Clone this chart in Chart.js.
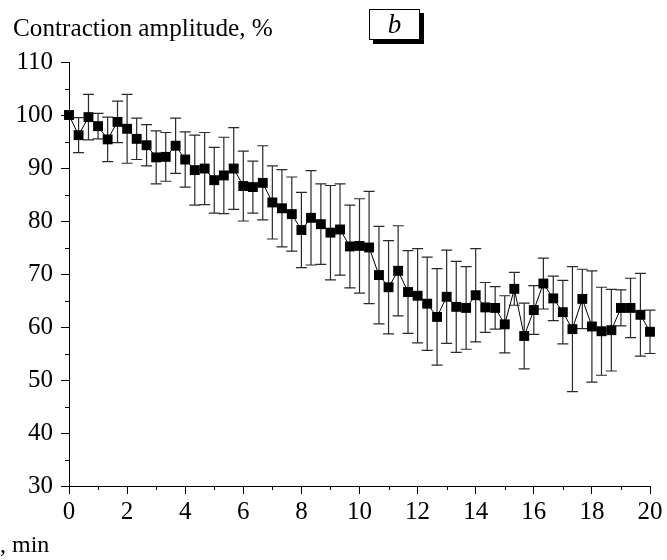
<!DOCTYPE html>
<html>
<head>
<meta charset="utf-8">
<script src="https://cdn.jsdelivr.net/npm/chart.js@4/dist/chart.umd.min.js"></script>
<style>
  html, body { margin: 0; padding: 0; background: #fff; }
  #wrap { position: relative; width: 667px; height: 560px; overflow: hidden; }
  canvas { position: absolute; left: 0; top: 0; }
  .t { position: absolute; font-family: "Liberation Serif", "DejaVu Serif", serif; color: #000; white-space: nowrap; }
  #ylab { left: 13px; top: 13px; font-size: 26px; transform: scaleX(0.97); transform-origin: left top; }
  #panel { left: 369px; top: 9px; width: 49px; height: 29px; border: 1px solid #000; box-shadow: 4px 4px 0 #000; background: #fff;
           font-style: italic; font-size: 27px; text-align: center; line-height: 28px; }
  #xlab { left: 0px; top: 531px; font-size: 24px; }
</style>
</head>
<body>
<div id="wrap">
  <canvas id="c" width="667" height="560"></canvas>
  <div class="t" id="ylab">Contraction amplitude, %</div>
  <div class="t" id="panel">b</div>
  <div class="t" id="xlab">, min</div>
</div>
<script>
// Time, min
const times = [0, 0.33, 0.67, 1, 1.33, 1.67, 2, 2.33, 2.67, 3, 3.33, 3.67, 4, 4.33, 4.67, 5, 5.33, 5.67, 6, 6.33, 6.67,
  7, 7.33, 7.67, 8, 8.33, 8.67, 9, 9.33, 9.67, 10, 10.33, 10.67, 11, 11.33, 11.67, 12, 12.33, 12.67, 13, 13.33, 13.67,
  14, 14.33, 14.67, 15, 15.33, 15.67, 16, 16.33, 16.67, 17, 17.33, 17.67, 18, 18.33, 18.67, 19, 19.33, 19.67, 20];
// Contraction amplitude, %
const amplitude = [100, 96.2, 99.6, 97.9, 95.4, 98.7, 97.4, 95.5, 94.3, 92.0, 92.1, 94.2, 91.6, 89.6, 89.9, 87.7, 88.6,
  89.9, 86.6, 86.4, 87.2, 83.5, 82.4, 81.3, 78.3, 80.6, 79.4, 77.8, 78.4, 75.2, 75.3, 75.0, 69.8, 67.5, 70.6, 66.6, 65.9,
  64.4, 61.9, 65.7, 63.8, 63.6, 66.0, 63.7, 63.6, 60.5, 67.2, 58.3, 63.2, 68.2, 65.4, 62.8, 59.6, 65.3, 60.1, 59.2, 59.4,
  63.6, 63.6, 62.3, 59.1];
// Error (±)
const errors = [0, 3.3, 4.3, 2.4, 4.2, 3.9, 6.5, 3.9, 3.9, 5.0, 4.6, 5.2, 5.2, 6.6, 6.8, 6.2, 7.2, 7.7, 6.6, 4.9, 7.0,
  6.9, 7.3, 7.0, 7.1, 8.9, 7.6, 8.9, 8.6, 7.8, 8.9, 10.6, 9.2, 8.8, 8.5, 7.8, 8.9, 8.8, 9.1, 8.8, 8.6, 7.8, 8.8, 4.7, 4.0,
  5.4, 3.1, 6.2, 4.6, 4.8, 4.2, 6.0, 11.8, 5.6, 10.5, 8.3, 7.7, 3.4, 5.6, 7.8, 4.1];
const xMajor = [0, 2, 4, 6, 8, 10, 12, 14, 16, 18, 20];
const xMinor = [1, 3, 5, 7, 9, 11, 13, 15, 17, 19];
const yMajor = [30, 40, 50, 60, 70, 80, 90, 100, 110];
const yMinor = [35, 45, 55, 65, 75, 85, 95, 105];

const FONT = "'Liberation Serif', 'DejaVu Serif', serif";

const errorBars = {
  id: 'errorBars',
  beforeDatasetsDraw(chart) {
    const ctx = chart.ctx, xs = chart.scales.x, ys = chart.scales.y;
    ctx.save();
    ctx.strokeStyle = '#2a2a2a';
    ctx.lineWidth = 1.2;
    const cap = 5.5;
    times.forEach((t, i) => {
      const e = errors[i];
      if (!e) return;
      const px = xs.getPixelForValue(t);
      const top = ys.getPixelForValue(amplitude[i] + e);
      const bot = ys.getPixelForValue(amplitude[i] - e);
      ctx.beginPath();
      ctx.moveTo(px, top); ctx.lineTo(px, bot);
      ctx.moveTo(px - cap, top); ctx.lineTo(px + cap, top);
      ctx.moveTo(px - cap, bot); ctx.lineTo(px + cap, bot);
      ctx.stroke();
    });
    ctx.restore();
  }
};

const minorTicks = {
  id: 'minorTicks',
  afterDraw(chart) {
    const ctx = chart.ctx, xs = chart.scales.x, ys = chart.scales.y;
    const ca = chart.chartArea;
    ctx.save();
    ctx.strokeStyle = '#000';
    ctx.lineWidth = 1;
    ctx.beginPath();
    xMinor.forEach(v => {
      const p = Math.round(xs.getPixelForValue(v)) + 0.5;
      ctx.moveTo(p, ca.bottom); ctx.lineTo(p, ca.bottom + 4);
    });
    yMinor.forEach(v => {
      const p = Math.round(ys.getPixelForValue(v)) + 0.5;
      ctx.moveTo(ca.left, p); ctx.lineTo(ca.left - 4, p);
    });
    ctx.stroke();
    ctx.restore();
  }
};

new Chart(document.getElementById('c'), {
  type: 'line',
  data: {
    datasets: [{
      data: times.map((t, i) => ({ x: t, y: amplitude[i] })),
      borderColor: '#000',
      borderWidth: 1,
      backgroundColor: '#000',
      pointStyle: 'rect',
      pointRadius: 7,
      pointBackgroundColor: '#000',
      pointBorderColor: '#000',
      pointBorderWidth: 0,
      tension: 0,
      clip: false
    }]
  },
  options: {
    responsive: false,
    animation: false,
    events: [],
    layout: { padding: { left: 0, right: 17, top: 62, bottom: 0 } },
    plugins: { legend: { display: false }, tooltip: { enabled: false }, title: { display: false } },
    scales: {
      x: {
        type: 'linear', min: 0, max: 20,
        afterFit(s) { s.height = 74; },
        afterBuildTicks(s) { s.ticks = xMajor.map(v => ({ value: v })); },
        ticks: { color: '#000', font: { family: FONT, size: 25 }, padding: 3, maxRotation: 0, autoSkip: false },
        grid: { drawOnChartArea: false, tickLength: 8, color: '#000', lineWidth: 1 },
        border: { color: '#000', width: 1 }
      },
      y: {
        type: 'linear', min: 30, max: 110,
        afterFit(s) { s.width = 69; },
        afterBuildTicks(s) { s.ticks = yMajor.map(v => ({ value: v })); },
        ticks: { color: '#000', font: { family: FONT, size: 25 }, padding: 8, autoSkip: false },
        grid: { drawOnChartArea: false, tickLength: 8, color: '#000', lineWidth: 1 },
        border: { color: '#000', width: 1 }
      }
    }
  },
  plugins: [errorBars, minorTicks]
});
</script>
</body>
</html>
